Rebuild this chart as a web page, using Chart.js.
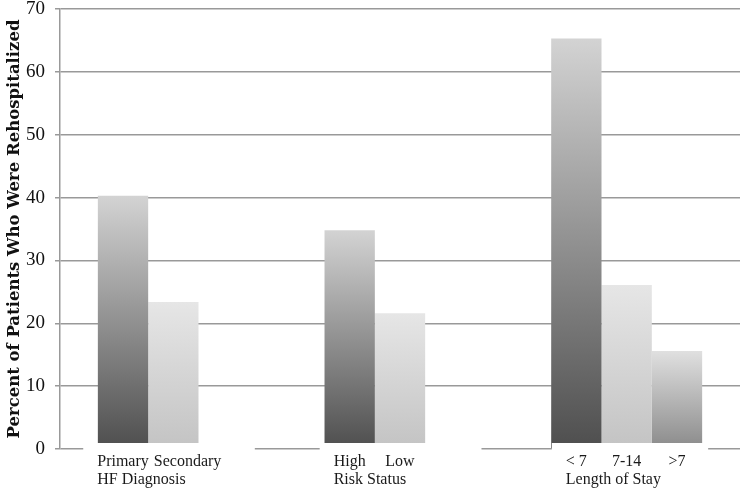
<!DOCTYPE html>
<html>
<head>
<meta charset="utf-8">
<script src="https://cdn.jsdelivr.net/npm/chart.js@4"></script>
<style>
  html, body { margin: 0; padding: 0; background: #fff; }
  #wrap { width: 744px; height: 489px; position: relative; }
</style>
</head>
<body>
<div id="wrap"><canvas id="c" width="744" height="489"></canvas></div>
<script>
// ---- data ----
const categories = ["HF Diagnosis", "Risk Status", "Length of Stay"];
const subLabels = [["Primary", "Secondary"], ["High", "Low"], ["< 7", "7-14", ">7"]];
const series1 = [40.3, 34.8, 65.3];   // Primary / High / < 7
const series2 = [23.4, 21.6, 26.1];   // Secondary / Low / 7-14
const series3 = [null, null, 15.6];   // >7
const yTicks = [0, 10, 20, 30, 40, 50, 60, 70];
const yTitle = "Percent of Patients Who Were Rehospitalized";

function grad(top, bottom) {
  return function (ctx) {
    const chart = ctx.chart;
    const v = ctx.raw;
    if (v == null || !chart.chartArea) return bottom;
    const y = chart.scales.y;
    const yt = y.getPixelForValue(v), yb = y.getPixelForValue(0);
    const g = chart.ctx.createLinearGradient(0, yt, 0, yb);
    g.addColorStop(0, top);
    g.addColorStop(1, bottom);
    return g;
  };
}

const labelPlugin = {
  id: 'groupLabels',
  afterDatasetsDraw(chart) {
    const ctx = chart.ctx;
    const y0 = chart.scales.y.getPixelForValue(0);
    ctx.save();
    ctx.font = '16px "Liberation Serif", "Times New Roman", serif';
    ctx.textBaseline = 'alphabetic';
    ctx.textAlign = 'left';
    categories.forEach((name, i) => {
      const subs = subLabels[i];
      const xs = [];
      let prevEnd = -Infinity;
      subs.forEach((s, k) => {
        const el = chart.getDatasetMeta(k).data[i];
        const w = ctx.measureText(s).width;
        let x = Math.max(el.x - w / 2, prevEnd + 5);
        xs.push(x);
        prevEnd = x + w;
      });
      const left = xs[0];
      const last = chart.getDatasetMeta(2).data[i];
      const right = Math.max(prevEnd + 17, last.x + last.width / 2 + 6);
      // white label box hiding the bar bases and axis line
      ctx.fillStyle = '#ffffff';
      ctx.fillRect(left - 14, y0 - 6, right - (left - 14), chart.height - (y0 - 6));
      ctx.fillStyle = '#1a1a1a';
      subs.forEach((s, k) => ctx.fillText(s, xs[k], y0 + 17));
      ctx.fillText(name, left, y0 + 35);
    });
    ctx.restore();
  }
};

new Chart(document.getElementById('c'), {
  type: 'bar',
  data: {
    labels: categories,
    datasets: [
      { data: series1, backgroundColor: grad('#d3d3d3', '#4e4e4e') },
      { data: series2, backgroundColor: grad('#e6e6e6', '#c3c3c3') },
      { data: series3, backgroundColor: grad('#e0e0e0', '#8a8a8a') }
    ]
  },
  options: {
    responsive: false,
    animation: false,
    devicePixelRatio: 1,
    layout: { padding: { top: 9, right: 4, left: 0, bottom: 0 } },
    plugins: { legend: { display: false }, tooltip: { enabled: false } },
    datasets: { bar: { categoryPercentage: 0.666, barPercentage: 1.0, borderWidth: 0 } },
    scales: {
      x: {
        grid: { display: false },
        border: { display: false },
        ticks: { display: false },
        afterFit(s) { s.height = 40; s.paddingLeft = 0; s.paddingRight = 0; }
      },
      y: {
        min: 0, max: 70,
        afterBuildTicks(s) { s.ticks = yTicks.map(v => ({ value: v })); },
        grid: { color: '#999999', lineWidth: 1.5, tickLength: 5, drawTicks: true },
        border: { display: true, color: '#999999', width: 1.5 },
        ticks: {
          color: '#111',
          padding: 10,
          font: { family: '"Liberation Serif", "Times New Roman", serif', size: 19 }
        },
        title: {
          display: true,
          text: yTitle,
          color: '#111',
          padding: { top: 5, bottom: 0 },
          font: { family: '"DejaVu Serif", serif', size: 16.5, weight: 'bold' }
        },
        afterFit(s) { s.width = 60; s.paddingTop = 0; s.paddingBottom = 0; }
      }
    }
  },
  plugins: [labelPlugin]
});
</script>
</body>
</html>
